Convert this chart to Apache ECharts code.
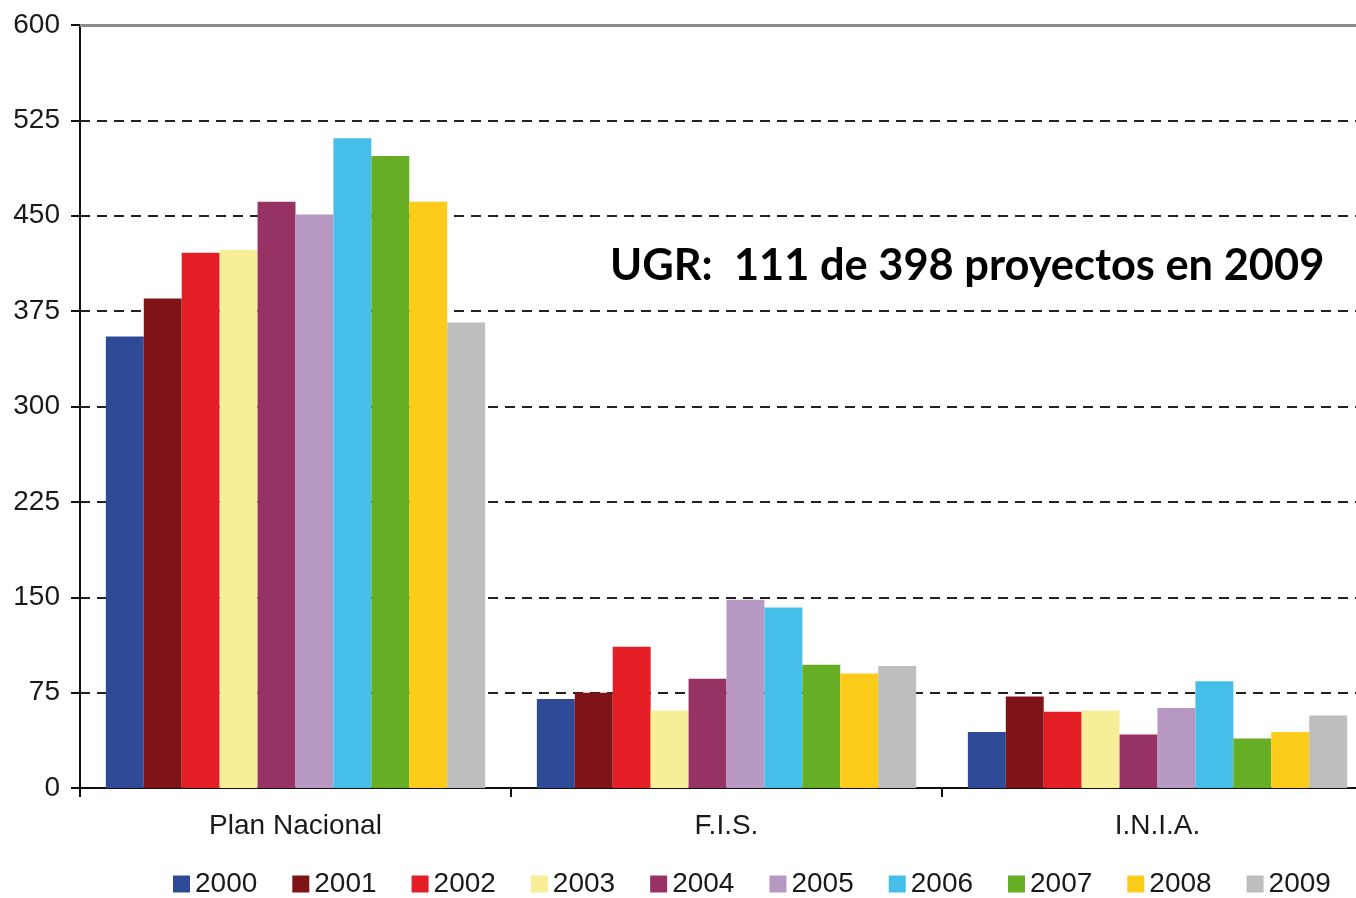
<!DOCTYPE html>
<html>
<head>
<meta charset="utf-8">
<script src="https://cdn.jsdelivr.net/npm/echarts@6/dist/echarts.min.js"></script>
<style>
html,body{margin:0;padding:0;background:#fff;overflow:hidden;width:1356px;height:898px;}
#c{width:1373px;height:898px;}
</style>
</head>
<body>
<div id="c"></div>
<script>
const categories = ['Plan Nacional', 'F.I.S.', 'I.N.I.A.'];
const years = ['2000','2001','2002','2003','2004','2005','2006','2007','2008','2009'];
const s2000 = [355, 70, 44];
const s2001 = [385, 75, 72];
const s2002 = [421, 111, 60];
const s2003 = [423, 61, 61];
const s2004 = [461, 86, 42];
const s2005 = [451, 148, 63];
const s2006 = [511, 142, 84];
const s2007 = [497, 97, 39];
const s2008 = [461, 90, 44];
const s2009 = [366, 96, 57];
const seriesValues = [s2000, s2001, s2002, s2003, s2004, s2005, s2006, s2007, s2008, s2009];
const colors = ['#2F4B97','#7F1418','#E31E24','#F7EF97','#963264','#B698C3','#45BFE9','#66AF24','#FDCB1A','#BEBEBE'];
const yTicks = [0, 75, 150, 225, 300, 375, 450, 525, 600];
const annotation = 'UGR:  111 de 398 proyectos en 2009';

const chart = echarts.init(document.getElementById('c'), null, {renderer: 'canvas'});
const series = years.map((y, i) => {
  const s = {
    name: y,
    type: 'bar',
    data: seriesValues[i],
    itemStyle: {color: colors[i]},
    barGap: '0%',
    barCategoryGap: '12%',
    emphasis: {disabled: true}
  };
  if (i === 0) {
    s.markLine = {
      silent: true,
      symbol: ['none', 'none'],
      label: {show: false},
      lineStyle: {color: '#8c8c8c', type: 'solid', width: 3},
      data: [{yAxis: yTicks[yTicks.length - 1]}]
    };
  }
  return s;
});

chart.setOption({
  animation: false,
  backgroundColor: '#ffffff',
  textStyle: {fontFamily: 'Liberation Sans, Arial, sans-serif'},
  grid: {left: 80, right: 0, top: 25, bottom: 110, containLabel: false},
  legend: {
    data: years,
    left: 173,
    top: 870,
    padding: 0,
    itemWidth: 17,
    itemHeight: 17,
    itemGap: 35,
    icon: 'rect',
    textStyle: {fontSize: 28, color: '#1a1a1a', fontFamily: 'Liberation Sans, Arial, sans-serif'}
  },
  xAxis: {
    type: 'category',
    data: categories,
    axisLine: {show: true, lineStyle: {color: '#111', width: 2}},
    axisTick: {show: true, alignWithLabel: false, length: 9, lineStyle: {color: '#111', width: 2}},
    axisLabel: {fontSize: 28, color: '#1a1a1a', margin: 24},
    splitLine: {show: false}
  },
  yAxis: {
    type: 'value',
    min: 0,
    max: 600,
    interval: 75,
    axisLine: {show: true, lineStyle: {color: '#111', width: 2}},
    axisTick: {show: true, length: 9, lineStyle: {color: '#111', width: 2}},
    axisLabel: {fontSize: 28, color: '#1a1a1a', margin: 20},
    splitLine: {
      show: true,
      lineStyle: {color: '#222', width: 2, type: [10, 7]}
    }
  },
  graphic: [{
    type: 'text',
    left: 610,
    top: 244,
    style: {
      text: annotation,
      font: 'bold 43.4px Lato, "Open Sans", sans-serif',
      fill: '#000'
    }
  }],
  series: series
});
</script>
</body>
</html>
